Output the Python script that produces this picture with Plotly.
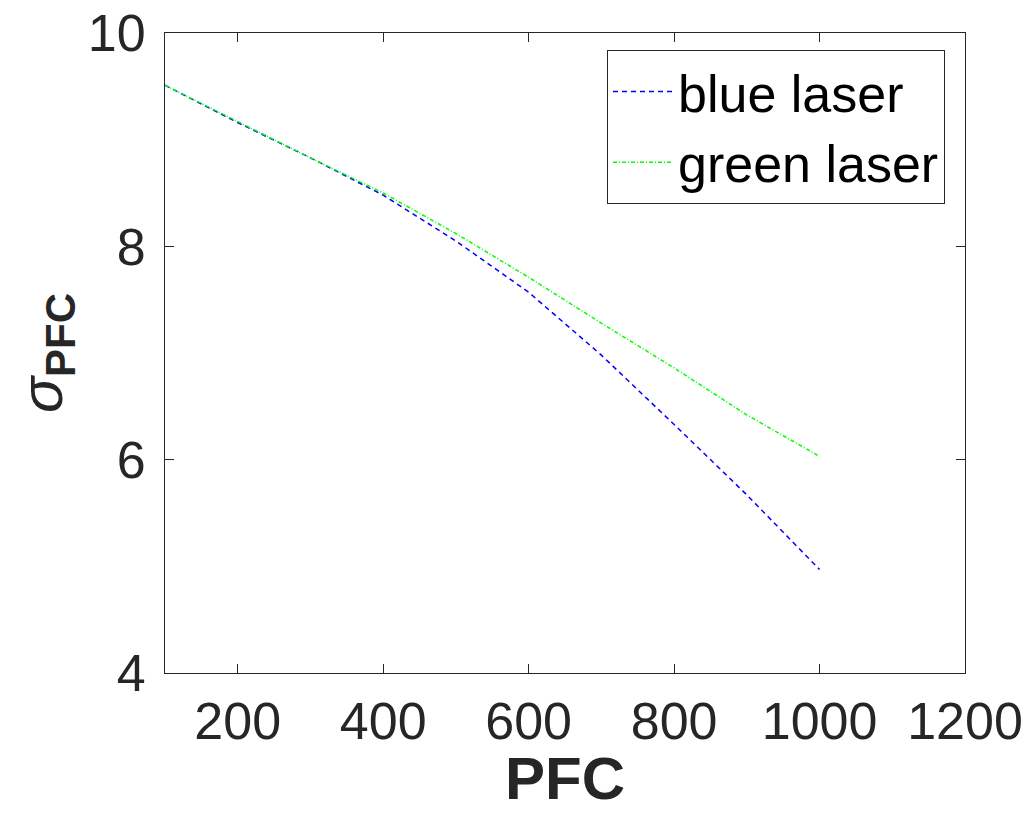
import plotly.graph_objects as go

pfc = [100, 200, 300, 400, 500, 600, 700, 800, 900, 1000]
blue_laser = [9.51, 9.16, 8.83, 8.48, 8.05, 7.57, 6.98, 6.33, 5.67, 4.97]
green_laser = [9.51, 9.17, 8.83, 8.50, 8.12, 7.71, 7.28, 6.86, 6.42, 6.03]
x_ticks = [200, 400, 600, 800, 1000, 1200]
y_ticks = [4, 6, 8, 10]

font_family = "Liberation Sans, Arial, sans-serif"
axis_color = "#262626"

fig = go.Figure()
fig.add_trace(go.Scatter(x=pfc, y=blue_laser, mode="lines", name="blue laser",
                         line=dict(color="#0000ff", width=1.5, dash="5px,4px")))
fig.add_trace(go.Scatter(x=pfc, y=green_laser, mode="lines", name="green laser",
                         line=dict(color="#00ff00", width=1.5, dash="4px,2px,1px,2px")))

fig.update_layout(
    width=1020, height=813,
    margin=dict(l=157, r=63, t=25, b=148),
    paper_bgcolor="white", plot_bgcolor="white",
    font=dict(family=font_family, color=axis_color),
    showlegend=True,
    legend=dict(x=0.975, y=0.973, xanchor="right", yanchor="top",
                bgcolor="white", bordercolor=axis_color, borderwidth=1,
                font=dict(size=52, color="black"), itemwidth=60,
                tracegroupgap=0),
    xaxis=dict(range=[100, 1200], tickvals=x_ticks, ticks="inside", ticklen=9,
               tickcolor=axis_color, showline=True, linecolor=axis_color, linewidth=1,
               mirror="ticks", showgrid=False, zeroline=False, automargin=False,
               tickfont=dict(size=52, color=axis_color), ticklabelstandoff=3,
               ticklabeloverflow="allow"),
    yaxis=dict(range=[4, 10], tickvals=y_ticks, ticks="inside", ticklen=9,
               tickcolor=axis_color, showline=True, linecolor=axis_color, linewidth=1,
               mirror="ticks", showgrid=False, zeroline=False, automargin=False,
               tickfont=dict(size=52, color=axis_color), ticklabelstandoff=8,
               ticklabeloverflow="allow",
               title=dict(text="<i>σ</i><sub><b>PFC</b></sub>", font=dict(size=60, color=axis_color), standoff=46)),
    annotations=[dict(text="<b>PFC</b>", xref="paper", yref="paper", x=0.5, y=-0.165,
                      xanchor="center", yanchor="middle", showarrow=False,
                      font=dict(size=60, color=axis_color, family=font_family))],
)

fig.write_html("out.html")
